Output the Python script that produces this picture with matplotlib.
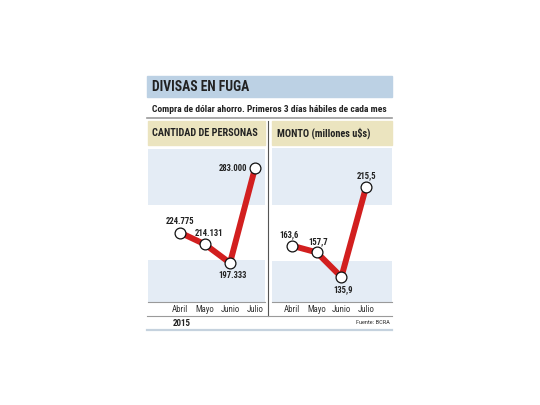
import matplotlib.pyplot as plt
from matplotlib.patches import Rectangle
from matplotlib.lines import Line2D

# data
meses = ['Abril', 'Mayo', 'Junio', 'Julio']
personas = [224.775, 214.131, 197.333, 283.000]
personas_labels = ['224.775', '214.131', '197.333', '283.000']
monto = [163.6, 157.7, 135.9, 215.5]
monto_labels = ['163,6', '157,7', '135,9', '215,5']

plt.rcParams['font.family'] = ['Roboto Condensed', 'DejaVu Sans']

W, H = 540, 405
fig = plt.figure(figsize=(5.4, 4.05), dpi=100)
fig.patch.set_facecolor('white')

RED = '#d21f1f'
BAND = '#e4ecf5'
TITLE_BG = '#bcd1e4'
HEAD_BG = '#ebe4bf'
GRAY = '#9a9a9a'


def fx(px):
    return px / W


def fy(py):
    return 1 - py / H


# title band
fig.patches.append(Rectangle((fx(147), fy(97)), fx(245), 21 / H,
                             transform=fig.transFigure, color=TITLE_BG, zorder=0))
fig.text(fx(152), fy(87), 'DIVISAS EN FUGA', fontsize=9.8, fontweight='bold',
         color='#222222', va='center')
fig.text(fx(152), fy(110), 'Compra de dólar ahorro. Primeros 3 días hábiles de cada mes',
         fontsize=6.8, fontweight='bold', color='#222222', va='center')
fig.lines.append(Line2D([fx(147), fx(392)], [fy(118), fy(118)], transform=fig.transFigure,
                        color=GRAY, lw=1.2))

# header bands
fig.patches.append(Rectangle((fx(148), fy(145)), fx(117), 24 / H,
                             transform=fig.transFigure, color=HEAD_BG, zorder=0))
fig.patches.append(Rectangle((fx(272), fy(145)), fx(120), 24 / H,
                             transform=fig.transFigure, color=HEAD_BG, zorder=0))
fig.text(fx(152), fy(133), 'CANTIDAD DE PERSONAS', fontsize=7.4, fontweight='bold',
         color='#222222', va='center')
fig.text(fx(277), fy(133), 'MONTO (millones u$s)', fontsize=7.4, fontweight='bold',
         color='#222222', va='center')

# divider and bottom lines
fig.lines.append(Line2D([fx(268), fx(268)], [fy(121), fy(316)], transform=fig.transFigure,
                        color='#555555', lw=0.8))
fig.lines.append(Line2D([fx(147), fx(392)], [fy(316), fy(316)], transform=fig.transFigure,
                        color=GRAY, lw=0.8))
fig.lines.append(Line2D([fx(147), fx(392)], [fy(330), fy(330)], transform=fig.transFigure,
                        color='#c5d2de', lw=1.6))
fig.text(fx(173), fy(323), '2015', fontsize=6.5, fontweight='bold', color='#222222',
         va='center')
fig.text(fx(390), fy(323), 'Fuente: BCRA', fontsize=4.6, color='#333333',
         va='center', ha='right')


def panel(left, width, xlim, ylim, bands, values, labels, offsets):
    ax = fig.add_axes([fx(left), 1 - 302 / H, fx(width), 154 / H])
    for lo, hi in bands:
        ax.axhspan(lo, hi, color=BAND, lw=0, zorder=0)
    x = range(len(values))
    ax.plot(x, values, color=RED, lw=4.3, solid_capstyle='butt', zorder=2)
    ax.plot(x, values, 'o', ms=7.8, mfc='white', mec='#111111', mew=0.9, zorder=3)
    for xi, v, t, (dx, dy) in zip(x, values, labels, offsets):
        ax.annotate(t, (xi, v), xytext=(dx, dy), textcoords='offset points',
                    ha='center', va='center', fontsize=6.2, fontweight='bold',
                    color='#222222')
    ax.set_xlim(*xlim)
    ax.set_ylim(*ylim)
    ax.set_xticks(list(x))
    ax.set_xticklabels(meses, fontsize=6.3, color='#333333')
    ax.tick_params(axis='x', length=0, pad=2)
    ax.set_yticks([])
    for s in ['top', 'left', 'right']:
        ax.spines[s].set_visible(False)
    ax.spines['bottom'].set_color(GRAY)
    ax.spines['bottom'].set_linewidth(0.8)
    ax.set_facecolor('none')
    return ax


panel(148, 117, (-1.28, 3.4), (162.1, 301.1), [(150, 200), (250, 300)],
      personas, personas_labels, [(0, 8), (3, 8), (2, -9), (-15.5, 0)])
panel(272, 120, (-0.81, 4.05), (113.8, 250.0), [(100, 150), (200, 250)],
      monto, monto_labels, [(-2, 8), (1, 8), (1, -9), (0, 8)])

plt.savefig('out.png', dpi=100)
